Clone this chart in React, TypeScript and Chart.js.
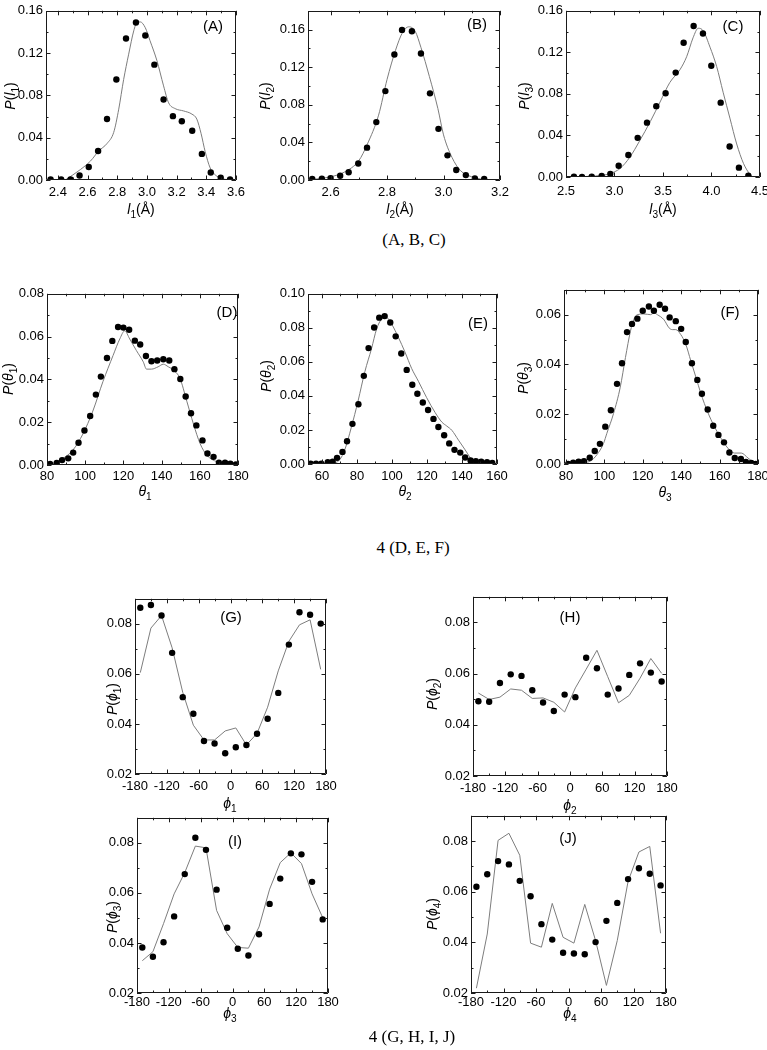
import React, { useEffect, useRef } from "react";
import { Chart, registerables } from "chart.js";
Chart.register(...registerables);

// ---------------- data ----------------
// (A) l1
const aDotX = [2.351, 2.422, 2.485, 2.546, 2.608, 2.671, 2.731, 2.794, 2.859, 2.926, 2.989, 3.05, 3.112, 3.175, 3.235, 3.305, 3.37, 3.43, 3.497, 3.56];
const aDotY = [0.0006, 0.0006, 0.0006, 0.0043, 0.0123, 0.0274, 0.0577, 0.095, 0.1338, 0.1489, 0.1366, 0.1091, 0.0761, 0.0604, 0.0555, 0.0466, 0.0247, 0.0071, 0.0022, 0.0006];
const aLineX = [2.45, 2.552, 2.62, 2.675, 2.731, 2.776, 2.81, 2.843, 2.877, 2.911, 2.933, 2.955, 2.989, 3.02, 3.067, 3.112, 3.146, 3.19, 3.247, 3.303, 3.336, 3.365, 3.392, 3.426, 3.47, 3.527, 3.583];
const aLineY = [0, 0.0099, 0.018, 0.0274, 0.0345, 0.045, 0.067, 0.095, 0.119, 0.141, 0.149, 0.1495, 0.144, 0.132, 0.113, 0.089, 0.073, 0.0675, 0.0653, 0.0623, 0.0576, 0.0438, 0.027, 0.0114, 0.0037, 0.0006, 0];
// (B) l2
const bDotX = [2.535, 2.569, 2.6, 2.634, 2.664, 2.698, 2.729, 2.762, 2.794, 2.826, 2.853, 2.888, 2.92, 2.952, 2.982, 3.014, 3.045, 3.079, 3.111, 3.144];
const bDotY = [0.001, 0.0014, 0.002, 0.0045, 0.0083, 0.0175, 0.0344, 0.0616, 0.0946, 0.1335, 0.1597, 0.1583, 0.1345, 0.0922, 0.0544, 0.0262, 0.0107, 0.0052, 0.0017, 0.001];
const bLineX = [2.52, 2.6, 2.65, 2.7, 2.73, 2.77, 2.8, 2.83, 2.855, 2.877, 2.9, 2.92, 2.95, 2.98, 3.0, 3.03, 3.06, 3.1, 3.14, 3.19];
const bLineY = [0, 0.0034, 0.0086, 0.0206, 0.038, 0.069, 0.107, 0.138, 0.157, 0.163, 0.158, 0.141, 0.11, 0.076, 0.048, 0.024, 0.01, 0.0034, 0.0007, 0];
// (C) l3
const cDotX = [2.582, 2.665, 2.765, 2.868, 2.957, 3.043, 3.143, 3.239, 3.335, 3.431, 3.527, 3.631, 3.713, 3.816, 3.912, 3.998, 4.095, 4.187, 4.283, 4.38];
const cDotY = [0.0003, 0.0, 0.0003, 0.0009, 0.003, 0.0109, 0.0212, 0.0377, 0.0523, 0.0682, 0.0806, 0.1005, 0.1292, 0.1454, 0.1382, 0.1071, 0.0716, 0.0293, 0.009, 0.0012];
const cLineX = [2.51, 2.9, 3.0, 3.06, 3.16, 3.26, 3.37, 3.47, 3.57, 3.675, 3.744, 3.81, 3.864, 3.915, 3.985, 4.053, 4.12, 4.19, 4.26, 4.33, 4.4, 4.43];
const cLineY = [0, 0.002, 0.005, 0.0084, 0.0193, 0.0349, 0.0535, 0.0722, 0.0909, 0.1033, 0.1158, 0.134, 0.1432, 0.1407, 0.125, 0.1065, 0.0816, 0.0567, 0.0318, 0.0131, 0.0022, 0];
// (D) theta1
const dDotX = [81.6, 85.1, 87.9, 91.1, 93.7, 96.5, 99.6, 102.6, 105.6, 108.2, 111.4, 114.2, 117.2, 120.0, 123.0, 126.0, 128.8, 131.8, 134.7, 137.7, 140.9, 144.0, 146.7, 149.8, 152.6, 155.4, 158.2, 161.4, 164.0, 167.2, 170.0, 173.2, 176.0, 178.9];
const dDotY = [0.0005, 0.0009, 0.0023, 0.0031, 0.0058, 0.0104, 0.0161, 0.0229, 0.0329, 0.0413, 0.05, 0.058, 0.0645, 0.0642, 0.0632, 0.0581, 0.0563, 0.0509, 0.0485, 0.0488, 0.0494, 0.0488, 0.0448, 0.0402, 0.032, 0.0242, 0.0185, 0.0115, 0.0054, 0.0038, 0.0011, 0.0011, 0.0006, 0.0002];
const dLineX = [81.2, 88.2, 93.5, 98.8, 104, 109.3, 114.6, 118.1, 120.7, 123.3, 126.8, 130.4, 132.1, 134.7, 138.2, 140.9, 143.5, 146.1, 149.6, 153.2, 156.7, 160.2, 163.7, 169, 176, 179.5];
const dLineY = [0, 0.003, 0.0069, 0.0145, 0.0252, 0.039, 0.0512, 0.0589, 0.0627, 0.0589, 0.0535, 0.0482, 0.0448, 0.0448, 0.0459, 0.0471, 0.0459, 0.0444, 0.0405, 0.0298, 0.0191, 0.0099, 0.0046, 0.0015, 0.0003, 0];
// (E) theta2
const eDotX = [53.5, 56.6, 59.6, 63.3, 66.1, 68.6, 71.7, 74.3, 77.4, 80.8, 83.9, 86.6, 89.8, 92.7, 95.8, 99.0, 102.1, 105.3, 108.4, 111.6, 114.5, 117.6, 120.6, 123.7, 126.5, 129.8, 132.7, 135.7, 139.0, 141.8, 144.9, 147.9, 151.0, 154.3, 157.3];
const eDotY = [0.0002, 0.0002, 0.0002, 0.001, 0.0013, 0.0036, 0.0071, 0.0134, 0.0236, 0.0351, 0.0518, 0.0681, 0.0802, 0.086, 0.0869, 0.0831, 0.075, 0.0649, 0.0553, 0.0466, 0.0413, 0.0361, 0.0317, 0.0265, 0.0217, 0.0169, 0.0121, 0.0083, 0.0067, 0.0038, 0.0021, 0.0017, 0.0013, 0.001, 0.0006];
const eLineX = [65.4, 70.1, 73, 76.8, 80.6, 84.5, 88.3, 91.2, 94, 96.9, 99.8, 103.6, 107.4, 111.2, 115.1, 119.8, 124.6, 128.5, 131.3, 134.2, 138, 141.8, 144.7, 146.6];
const eLineY = [0, 0.0025, 0.0083, 0.0217, 0.037, 0.0543, 0.0678, 0.0793, 0.085, 0.086, 0.0822, 0.0745, 0.0658, 0.0562, 0.0486, 0.039, 0.0303, 0.0246, 0.0223, 0.0198, 0.014, 0.0083, 0.0035, 0];
// (F) theta3
const fDotX = [81.2, 83.8, 86.6, 89.4, 92.4, 95.0, 97.7, 100.5, 103.4, 106.6, 109.2, 111.8, 114.4, 117.2, 120.0, 123.2, 125.8, 128.8, 131.6, 134.0, 137.2, 140.0, 142.4, 145.6, 148.4, 150.8, 153.8, 156.7, 159.4, 162.3, 165.1, 167.9, 171.1, 173.7, 176.5, 178.8];
const fDotY = [0, 0.0005, 0.0009, 0.0011, 0.0025, 0.0052, 0.0081, 0.015, 0.0216, 0.0322, 0.0405, 0.053, 0.0563, 0.0584, 0.0616, 0.0633, 0.0616, 0.064, 0.0624, 0.0589, 0.0574, 0.0543, 0.049, 0.0405, 0.0338, 0.0282, 0.0219, 0.0154, 0.0117, 0.0087, 0.0046, 0.0024, 0.002, 0.0008, 0.0004, 0];
const fLineX = [81.2, 87.3, 92.6, 96.1, 99.6, 101.3, 104.8, 108.3, 111, 113.6, 115.3, 117.1, 120.6, 124.1, 125.8, 127.6, 131, 133.7, 135.4, 137.2, 139.8, 142.4, 145, 147.7, 150.3, 153.8, 157.3, 160.8, 164.3, 167.8, 171.3, 174.8, 178.3, 180];
const fLineY = [0, 0.0004, 0.0011, 0.0037, 0.0083, 0.0123, 0.0203, 0.0309, 0.0428, 0.0534, 0.058, 0.06, 0.0603, 0.06, 0.0607, 0.06, 0.058, 0.0547, 0.054, 0.054, 0.052, 0.0481, 0.0415, 0.0348, 0.0282, 0.0209, 0.015, 0.0103, 0.0064, 0.0044, 0.0044, 0.0024, 0.0004, 0];
// (G)-(J) dihedral angles, shared bin centres
const phiX = [-170, -150, -130, -110, -90, -70, -50, -30, -10, 10, 30, 50, 70, 90, 110, 130, 150, 170];
const gDotY = [0.0864, 0.0875, 0.0833, 0.0684, 0.0507, 0.0441, 0.0332, 0.0322, 0.0283, 0.0307, 0.0316, 0.0361, 0.0421, 0.0524, 0.0717, 0.0846, 0.0836, 0.0801];
const gLineY = [0.0605, 0.0783, 0.0833, 0.0704, 0.0526, 0.0395, 0.0336, 0.0336, 0.0372, 0.0384, 0.0316, 0.0362, 0.0467, 0.0612, 0.073, 0.0796, 0.0816, 0.0618];
const hDotY = [0.0492, 0.049, 0.0563, 0.0597, 0.0591, 0.0535, 0.0487, 0.0454, 0.0518, 0.0508, 0.0662, 0.0621, 0.0518, 0.0542, 0.0595, 0.064, 0.0604, 0.0569];
const hLineY = [0.0524, 0.0499, 0.0508, 0.054, 0.0535, 0.0503, 0.0505, 0.0488, 0.045, 0.0544, 0.0617, 0.0691, 0.0588, 0.0486, 0.0515, 0.0582, 0.0659, 0.0601];
const iDotY = [0.0382, 0.0345, 0.0403, 0.0506, 0.0675, 0.082, 0.0772, 0.0613, 0.0461, 0.0377, 0.035, 0.0435, 0.0556, 0.0657, 0.0758, 0.0754, 0.0644, 0.0494];
const iLineY = [0.0329, 0.0365, 0.0477, 0.0596, 0.0681, 0.0787, 0.078, 0.053, 0.0437, 0.0382, 0.0379, 0.0464, 0.0615, 0.0721, 0.076, 0.0717, 0.0596, 0.0501];
const jDotY = [0.062, 0.0669, 0.0721, 0.0708, 0.0643, 0.0582, 0.0472, 0.0411, 0.0359, 0.0356, 0.0353, 0.0401, 0.0485, 0.0556, 0.065, 0.0693, 0.0671, 0.0625];
const jLineY = [0.0219, 0.0433, 0.0803, 0.0831, 0.0744, 0.0397, 0.0381, 0.0554, 0.042, 0.0397, 0.055, 0.0407, 0.023, 0.0407, 0.0641, 0.0757, 0.0779, 0.0436];

// tick labels
const lTicksA = [2.4, 2.6, 2.8, 3.0, 3.2, 3.4, 3.6];
const lTicksB = [2.6, 2.8, 3.0, 3.2];
const lTicksC = [2.5, 3.0, 3.5, 4.0, 4.5];
const yTicksL = [0, 0.04, 0.08, 0.12, 0.16];
const thTicksD = [80, 100, 120, 140, 160, 180];
const thTicksE = [60, 80, 100, 120, 140, 160];
const yTicksD = [0, 0.02, 0.04, 0.06, 0.08];
const yTicksE = [0, 0.02, 0.04, 0.06, 0.08, 0.1];
const yTicksF = [0, 0.02, 0.04, 0.06];
const phiTicks = [-180, -120, -60, 0, 60, 120, 180];
const yTicksPhi = [0.02, 0.04, 0.06, 0.08];

const captions = ["(A, B, C)", "4 (D, E, F)", "4 (G, H, I, J)"];

// ---------------- rendering ----------------
type Seg = { t: string; i?: boolean; s?: boolean };
const SANS = '"Liberation Sans", Arial, "DejaVu Sans", sans-serif';
const fnt = (size: number, it: boolean) => `${it ? "italic " : ""}${size}px ${SANS}`;

function drawRich(ctx: CanvasRenderingContext2D, segs: Seg[], cx: number, cy: number, size: number, rotate: boolean) {
  ctx.save();
  ctx.translate(cx, cy);
  if (rotate) ctx.rotate(-Math.PI / 2);
  ctx.fillStyle = "#000";
  ctx.textBaseline = "alphabetic";
  ctx.textAlign = "left";
  const widths = segs.map((sg) => {
    ctx.font = fnt(sg.s ? size * 0.72 : size, !!sg.i);
    return ctx.measureText(sg.t).width;
  });
  const total = widths.reduce((a, b) => a + b, 0);
  let x = -total / 2;
  const base = size * 0.36;
  segs.forEach((sg, k) => {
    ctx.font = fnt(sg.s ? size * 0.72 : size, !!sg.i);
    ctx.fillText(sg.t, x, base + (sg.s ? size * 0.28 : 0));
    x += widths[k];
  });
  ctx.restore();
}

const P = (sym: string, n: string): Seg[] => [{ t: "P", i: true }, { t: "(" }, { t: sym, i: true }, { t: n, s: true }, { t: ")" }];
const L = (n: string): Seg[] => [{ t: "l", i: true }, { t: n, s: true }, { t: "(Å)" }];
const G = (sym: string, n: string): Seg[] => [{ t: sym, i: true }, { t: n, s: true }];

interface PanelCfg {
  box: [number, number, number, number];
  xMin: number; xMax: number; yMin: number; yMax: number;
  xTicks: number[]; yTicks: number[]; xDec: number; yDec: number;
  xMinor: number; yMinor: number;
  dx: number[]; dy: number[]; lx: number[]; ly: number[]; smooth: boolean;
  yTitle: Seg[]; yTitlePos: [number, number];
  xTitle: Seg[]; xTitlePos: [number, number];
  letter: string; letterPos: [number, number];
  xPad: number;
}

const panels: PanelCfg[] = [
  { box: [46, 5, 236, 180], xMin: 2.32, xMax: 3.6, yMin: 0, yMax: 0.16, xTicks: lTicksA, yTicks: yTicksL, xDec: 1, yDec: 2, xMinor: 0.1, yMinor: 0.02,
    dx: aDotX, dy: aDotY, lx: aLineX, ly: aLineY, smooth: true, yTitle: P("l", "1"), yTitlePos: [10, 96], xTitle: L("1"), xTitlePos: [141, 209], letter: "(A)", letterPos: [213, 27], xPad: 5 },
  { box: [308, 5, 500, 180], xMin: 2.52, xMax: 3.2, yMin: 0, yMax: 0.18, xTicks: lTicksB, yTicks: yTicksL, xDec: 1, yDec: 2, xMinor: 0.1, yMinor: 0.02,
    dx: bDotX, dy: bDotY, lx: bLineX, ly: bLineY, smooth: true, yTitle: P("l", "2"), yTitlePos: [265, 96], xTitle: L("2"), xTitlePos: [400, 209], letter: "(B)", letterPos: [477, 25], xPad: 5 },
  { box: [566, 5, 760, 177], xMin: 2.5, xMax: 4.5, yMin: 0, yMax: 0.16, xTicks: lTicksC, yTicks: yTicksL, xDec: 1, yDec: 2, xMinor: 0.25, yMinor: 0.02,
    dx: cDotX, dy: cDotY, lx: cLineX, ly: cLineY, smooth: true, yTitle: P("l", "3"), yTitlePos: [524, 96], xTitle: L("3"), xTitlePos: [663, 209], letter: "(C)", letterPos: [733, 27], xPad: 7 },
  { box: [47, 291, 238, 465], xMin: 80, xMax: 180, yMin: 0, yMax: 0.08, xTicks: thTicksD, yTicks: yTicksD, xDec: 0, yDec: 2, xMinor: 10, yMinor: 0.01,
    dx: dDotX, dy: dDotY, lx: dLineX, ly: dLineY, smooth: true, yTitle: P("θ", "1"), yTitlePos: [8, 379], xTitle: G("θ", "1"), xTitlePos: [145, 491], letter: "(D)", letterPos: [227, 313], xPad: 4 },
  { box: [308, 291, 497, 464], xMin: 52, xMax: 160, yMin: 0, yMax: 0.1, xTicks: thTicksE, yTicks: yTicksE, xDec: 0, yDec: 2, xMinor: 10, yMinor: 0.01,
    dx: eDotX, dy: eDotY, lx: eLineX, ly: eLineY, smooth: true, yTitle: P("θ", "2"), yTitlePos: [266, 376], xTitle: G("θ", "2"), xTitlePos: [405, 491], letter: "(E)", letterPos: [478, 324], xPad: 5 },
  { box: [564, 287, 758, 464], xMin: 79, xMax: 180, yMin: 0, yMax: 0.07, xTicks: thTicksD, yTicks: yTicksF, xDec: 0, yDec: 2, xMinor: 10, yMinor: 0.01,
    dx: fDotX, dy: fDotY, lx: fLineX, ly: fLineY, smooth: true, yTitle: P("θ", "3"), yTitlePos: [523, 378], xTitle: G("θ", "3"), xTitlePos: [665, 492], letter: "(F)", letterPos: [730, 313], xPad: 5 },
  { box: [135, 596, 326, 774], xMin: -180, xMax: 180, yMin: 0.02, yMax: 0.09, xTicks: phiTicks, yTicks: yTicksPhi, xDec: 0, yDec: 2, xMinor: 30, yMinor: 0.01,
    dx: phiX, dy: gDotY, lx: phiX, ly: gLineY, smooth: false, yTitle: P("ϕ", "1"), yTitlePos: [112, 699], xTitle: G("ϕ", "1"), xTitlePos: [230, 803], letter: "(G)", letterPos: [231, 618], xPad: 5 },
  { box: [473, 594, 667, 776], xMin: -180, xMax: 180, yMin: 0.02, yMax: 0.09, xTicks: phiTicks, yTicks: yTicksPhi, xDec: 0, yDec: 2, xMinor: 30, yMinor: 0.01,
    dx: phiX, dy: hDotY, lx: phiX, ly: hLineY, smooth: false, yTitle: P("ϕ", "2"), yTitlePos: [432, 694], xTitle: G("ϕ", "2"), xTitlePos: [570, 805], letter: "(H)", letterPos: [570, 618], xPad: 5 },
  { box: [137, 815, 328, 993], xMin: -180, xMax: 180, yMin: 0.02, yMax: 0.09, xTicks: phiTicks, yTicks: yTicksPhi, xDec: 0, yDec: 2, xMinor: 30, yMinor: 0.01,
    dx: phiX, dy: iDotY, lx: phiX, ly: iLineY, smooth: false, yTitle: P("ϕ", "3"), yTitlePos: [112, 917], xTitle: G("ϕ", "3"), xTitlePos: [230, 1013], letter: "(I)", letterPos: [235, 842], xPad: 2 },
  { box: [471, 813, 666, 993], xMin: -180, xMax: 180, yMin: 0.02, yMax: 0.09, xTicks: phiTicks, yTicks: yTicksPhi, xDec: 0, yDec: 2, xMinor: 30, yMinor: 0.01,
    dx: phiX, dy: jDotY, lx: phiX, ly: jLineY, smooth: false, yTitle: P("ϕ", "4"), yTitlePos: [432, 914], xTitle: G("ϕ", "4"), xTitlePos: [570, 1013], letter: "(J)", letterPos: [568, 839], xPad: 2 },
];

function Panel({ p }: { p: PanelCfg }) {
  const ref = useRef<HTMLCanvasElement>(null);
  const LW = Math.min(p.box[0], 52);
  const TP = Math.min(p.box[1], 8);
  const RP = 16;
  const BP = 42;
  const cl = p.box[0] - LW;
  const ct = p.box[1] - TP;
  const w = p.box[2] - p.box[0] + LW + RP;
  const h = p.box[3] - p.box[1] + TP + BP;

  useEffect(() => {
    const canvas = ref.current!;
    const decor = {
      id: "decor",
      afterDraw(chart: any) {
        const ctx: CanvasRenderingContext2D = chart.ctx;
        const a = chart.chartArea;
        const xs = chart.scales.x;
        const ys = chart.scales.y;
        ctx.save();
        ctx.strokeStyle = "#1a1a1a";
        ctx.lineWidth = 1;
        ctx.beginPath();
        ctx.rect(Math.round(a.left) + 0.5, Math.round(a.top) + 0.5, Math.round(a.right - a.left) - 1, Math.round(a.bottom - a.top) - 1);
        const isMajor = (v: number, ticks: number[]) => ticks.some((t) => Math.abs(t - v) < 1e-6);
        const n0 = Math.ceil(p.xMin / p.xMinor - 1e-6), n1 = Math.floor(p.xMax / p.xMinor + 1e-6);
        for (let n = n0; n <= n1; n++) {
          const v = n * p.xMinor;
          const px = Math.round(xs.getPixelForValue(v)) + 0.5;
          const len = isMajor(v, p.xTicks) ? 4.5 : 2.5;
          ctx.moveTo(px, a.bottom); ctx.lineTo(px, a.bottom - len);
          ctx.moveTo(px, a.top); ctx.lineTo(px, a.top + len);
        }
        const m0 = Math.ceil(p.yMin / p.yMinor - 1e-6), m1 = Math.floor(p.yMax / p.yMinor + 1e-6);
        for (let n = m0; n <= m1; n++) {
          const v = n * p.yMinor;
          const py = Math.round(ys.getPixelForValue(v)) + 0.5;
          const len = isMajor(v, p.yTicks) ? 4.5 : 2.5;
          ctx.moveTo(a.left, py); ctx.lineTo(a.left + len, py);
          ctx.moveTo(a.right, py); ctx.lineTo(a.right - len, py);
        }
        ctx.stroke();
        // titles
        drawRich(ctx, p.yTitle, p.yTitlePos[0] - cl, p.yTitlePos[1] - ct, 14, true);
        drawRich(ctx, p.xTitle, p.xTitlePos[0] - cl, p.xTitlePos[1] - ct, 14, false);
        ctx.font = fnt(15, false);
        ctx.fillStyle = "#000";
        ctx.textAlign = "center";
        ctx.textBaseline = "middle";
        ctx.fillText(p.letter, p.letterPos[0] - cl, p.letterPos[1] - ct);
        ctx.restore();
      },
    };
    const tickFont = { family: SANS, size: 13 };
    const chart = new Chart(canvas, {
      type: "scatter",
      data: {
        datasets: [
          {
            data: p.dx.map((x, i) => ({ x, y: p.dy[i] })),
            pointRadius: 3.2,
            pointBackgroundColor: "#000",
            pointBorderColor: "#000",
            pointBorderWidth: 0,
            showLine: false,
          },
          {
            data: p.lx.map((x, i) => ({ x, y: p.ly[i] })),
            showLine: true,
            pointRadius: 0,
            borderColor: "#7d7d7d",
            borderWidth: 1,
            tension: p.smooth ? 0.4 : 0,
            cubicInterpolationMode: p.smooth ? "monotone" : "default",
            fill: false,
          },
        ],
      },
      options: {
        animation: false,
        responsive: false,
        devicePixelRatio: 1,
        events: [],
        layout: { padding: { left: 0, top: TP, right: RP, bottom: 0 }, autoPadding: false },
        plugins: { legend: { display: false }, tooltip: { enabled: false } },
        scales: {
          x: {
            type: "linear",
            position: "bottom",
            min: p.xMin,
            max: p.xMax,
            grid: { display: false, drawTicks: false },
            border: { display: false },
            afterBuildTicks: (s: any) => { s.ticks = p.xTicks.map((v) => ({ value: v })); },
            afterFit: (s: any) => { s.height = BP; },
            ticks: { font: tickFont, color: "#000", padding: p.xPad, maxRotation: 0, minRotation: 0, autoSkip: false,
              callback: (v: any) => Number(v).toFixed(p.xDec) },
          },
          y: {
            type: "linear",
            position: "left",
            min: p.yMin,
            max: p.yMax,
            grid: { display: false, drawTicks: false },
            border: { display: false },
            afterBuildTicks: (s: any) => { s.ticks = p.yTicks.map((v) => ({ value: v })); },
            afterFit: (s: any) => { s.width = LW; },
            ticks: { font: tickFont, color: "#000", padding: 3, autoSkip: false,
              callback: (v: any) => Number(v).toFixed(p.yDec) },
          },
        },
      } as any,
      plugins: [decor as any],
    });
    return () => chart.destroy();
  }, []);

  return (
    <canvas
      ref={ref}
      width={w}
      height={h}
      style={{ position: "absolute", left: cl, top: ct, width: w, height: h }}
    />
  );
}

const captionPos: [number, number][] = [[414, 240], [413, 548], [412, 1037]];

export default function App() {
  return (
    <div style={{ position: "absolute", left: 0, top: 0, width: 767, height: 1050, overflow: "hidden", background: "#fff" }}>
      {panels.map((p, i) => (
        <Panel key={i} p={p} />
      ))}
      {captions.map((c, i) => (
        <div
          key={c}
          style={{
            position: "absolute",
            left: captionPos[i][0] - 120,
            top: captionPos[i][1] - 11,
            width: 240,
            height: 22,
            lineHeight: "22px",
            textAlign: "center",
            fontFamily: '"Liberation Serif", "Times New Roman", serif',
            fontSize: 17,
            color: "#000",
          }}
        >
          {c}
        </div>
      ))}
    </div>
  );
}
